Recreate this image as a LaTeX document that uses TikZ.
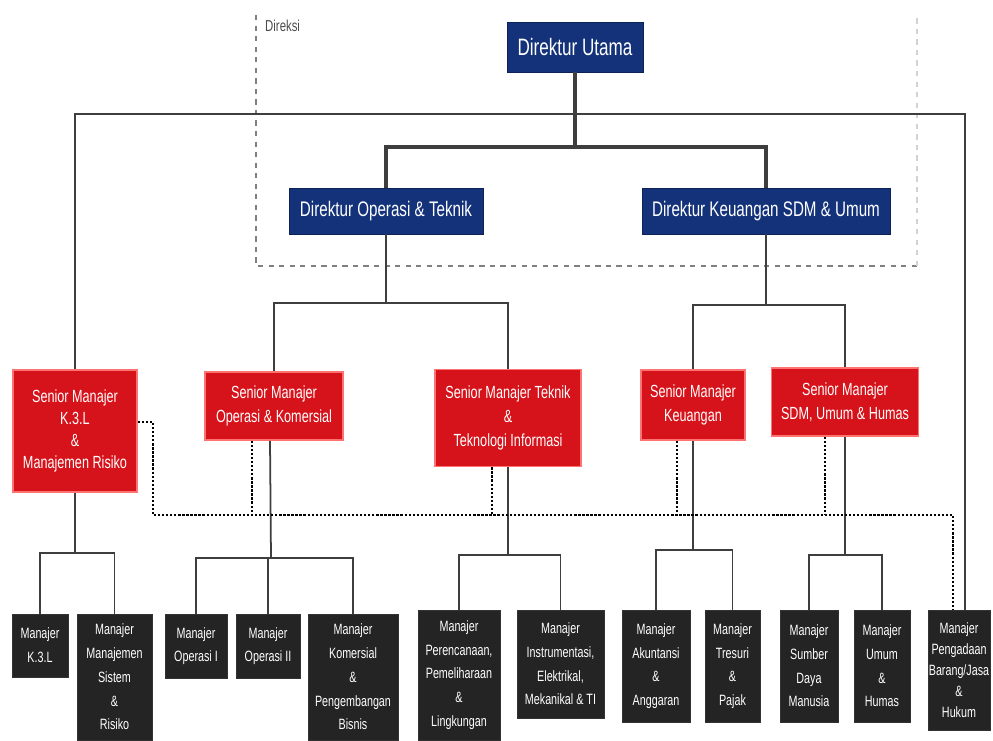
\documentclass[tikz,border=0pt]{standalone}
\usepackage{fontspec}
\setmainfont{Liberation Sans}[FakeStretch=0.72]
\usepackage{tikz}
\usetikzlibrary{positioning, calc}
\definecolor{navy}{RGB}{20,50,122}
\definecolor{merah}{RGB}{214,18,26}
\definecolor{hitam}{RGB}{36,36,36}
\definecolor{garis}{RGB}{62,62,62}
\tikzstyle{direktur} = [rectangle,
inner sep=0pt,
text centered,
fill=navy, draw=navy!70!black,
text=white,
font=\fontsize{12}{14}\selectfont]
\tikzstyle{senior} = [rectangle,
inner sep=0pt,
align=center,
fill=merah, draw=red!55!white, line width=1pt,
text=white,
font=\fontsize{10}{13.5}\selectfont]
\tikzstyle{manajer} = [rectangle,
inner sep=0pt,
align=center,
fill=hitam, draw=black!80,
text=white,
font=\fontsize{8.5}{13.5}\selectfont]
\tikzstyle{link} = [draw=garis, line width=1pt]
\tikzstyle{dotline} = [draw=black, densely dotted, line width=1.3pt]

\begin{document}
\begin{tikzpicture}[x=0.02cm, y=-0.02cm]
    \useasboundingbox (0,0) rectangle (993,740);

    % direksi
    \draw [gray, dashed, line width=0.6pt] (256,15) -- (256,266) -- (917,266);
    \draw [gray!35, dashed, line width=0.6pt] (917,266) -- (917,15);
    \node (direksi) [anchor=west, text=black!70, font=\fontsize{9}{10}\selectfont] at (259,26) {Direksi};

    \node (du) [direktur, minimum width=2.72cm, minimum height=1cm, font=\fontsize{13.5}{15}\selectfont] at (575,47) {Direktur Utama};
    \node (dot) [direktur, minimum width=3.88cm, minimum height=0.92cm] at (386,211) {Direktur Operasi \& Teknik};
    \node (dku) [direktur, minimum width=4.96cm, minimum height=0.92cm] at (766,211) {Direktur Keuangan SDM \& Umum};

    % senior manajer
    \node (smk3l) [senior, minimum width=2.48cm, minimum height=2.44cm, font=\fontsize{10}{12.5}\selectfont] at (75,431) {Senior Manajer\\K.3.L\\\&\\Manajemen Risiko};
    \node (smok) [senior, minimum width=2.76cm, minimum height=1.36cm] at (274,406) {Senior Manajer\\Operasi \& Komersial};
    \node (smti) [senior, minimum width=2.92cm, minimum height=1.94cm] at (508,418) {Senior Manajer Teknik\\\&\\Teknologi Informasi};
    \node (smku) [senior, minimum width=2.08cm, minimum height=1.4cm] at (693,405) {Senior Manajer\\Keuangan};
    \node (smsdm) [senior, minimum width=2.94cm, minimum height=1.36cm] at (845,402) {Senior Manajer\\SDM, Umum \& Humas};

    % manajer
    \node (mk3l) [manajer, minimum width=1.12cm, minimum height=1.26cm] at (40,645.5) {Manajer\\K.3.L};
    \node (mms) [manajer, minimum width=1.5cm, minimum height=2.52cm] at (114.5,677) {Manajer\\Manajemen\\Sistem\\\&\\Risiko};
    \node (mo1) [manajer, minimum width=1.24cm, minimum height=1.28cm] at (196,646) {Manajer\\Operasi I};
    \node (mo2) [manajer, minimum width=1.28cm, minimum height=1.28cm] at (268,646) {Manajer\\Operasi II};
    \node (mkpb) [manajer, minimum width=1.8cm, minimum height=2.52cm] at (353,677) {Manajer\\Komersial\\\&\\Pengembangan\\Bisnis};
    \node (mppl) [manajer, minimum width=1.64cm, minimum height=2.6cm] at (459,675) {Manajer\\Perencanaan,\\Pemeliharaan\\\&\\Lingkungan};
    \node (miem) [manajer, minimum width=1.74cm, minimum height=2.16cm] at (560.5,664) {Manajer\\Instrumentasi,\\Elektrikal,\\Mekanikal \& TI};
    \node (maa) [manajer, minimum width=1.36cm, minimum height=2.24cm] at (656,666) {Manajer\\Akuntansi\\\&\\Anggaran};
    \node (mtp) [manajer, minimum width=1.1cm, minimum height=2.24cm] at (732.5,666) {Manajer\\Tresuri\\\&\\Pajak};
    \node (msdm) [manajer, minimum width=1.16cm, minimum height=2.24cm] at (809,666) {Manajer\\Sumber\\Daya\\Manusia};
    \node (muh) [manajer, minimum width=1.12cm, minimum height=2.24cm] at (882,666) {Manajer\\Umum\\\&\\Humas};
    \node (mpbj) [manajer, minimum width=1.24cm, minimum height=2.4cm, font=\fontsize{8.5}{12}\selectfont] at (959,670) {Manajer\\Pengadaan\\Barang/Jasa\\\&\\Hukum};

    % garis
    \coordinate (btop) at (575,114);
    \coordinate (bdir) at (575,147);
    \draw [link, line width=1.8pt] (du) -- (bdir);
    \draw [link, line width=1.8pt] (dot) |- (bdir) -| (dku);
    \draw [link, line width=1.3pt] (smk3l) |- (btop) -| ($(mpbj.north)+(6,0)$);

    \coordinate (bop) at (386,303);
    \coordinate (bku) at (766,305);
    \draw [link, line width=1.3pt] (dot) -- (bop);
    \draw [link, line width=1.5pt] (smok) |- (bop) -| (smti);
    \draw [link, line width=1.3pt] (dku) -- (bku);
    \draw [link, line width=1.5pt] (smku) |- (bku) -| (smsdm);

    \coordinate (bk3l) at (75,553);
    \coordinate (bopk) at (271,558);
    \coordinate (bti) at (508,555);
    \coordinate (bkeu) at (693,550);
    \coordinate (bsdm) at (845,555);
    \draw [link] (smk3l) -- (bk3l);
    \draw [link] (mk3l) |- (bk3l) -| (mms);
    \draw [link] ($(smok.south)+(-4,0)$) -- (bopk);
    \draw [link] (mo1) |- (bopk) -| (mkpb);
    \draw [link] (mo2) -- (mo2 |- bopk);
    \draw [link] (smti) -- (bti);
    \draw [link] (mppl) |- (bti) -| (miem);
    \draw [link] (smku) -- (bkeu);
    \draw [link] (maa) |- (bkeu) -| (mtp);
    \draw [link] (smsdm) -- (bsdm);
    \draw [link] (msdm) |- (bsdm) -| (muh);

    % garis koordinasi
    \coordinate (dotL) at (153,515);
    \coordinate (dotR) at (953,515);
    \draw [dotline] ($(smk3l.east)+(0,-9)$) -| (dotL) -- (dotR) -- (dotR |- mpbj.north);
    \draw [dotline] ($(smok.south)+(-22,0)$) coordinate (t1) -- (t1 |- dotL);
    \draw [dotline] ($(smti.south)+(-16,0)$) coordinate (t2) -- (t2 |- dotL);
    \draw [dotline] ($(smku.south)+(-16,0)$) coordinate (t3) -- (t3 |- dotL);
    \draw [dotline] ($(smsdm.south)+(-20,0)$) coordinate (t4) -- (t4 |- dotL);
\end{tikzpicture}
\end{document}
